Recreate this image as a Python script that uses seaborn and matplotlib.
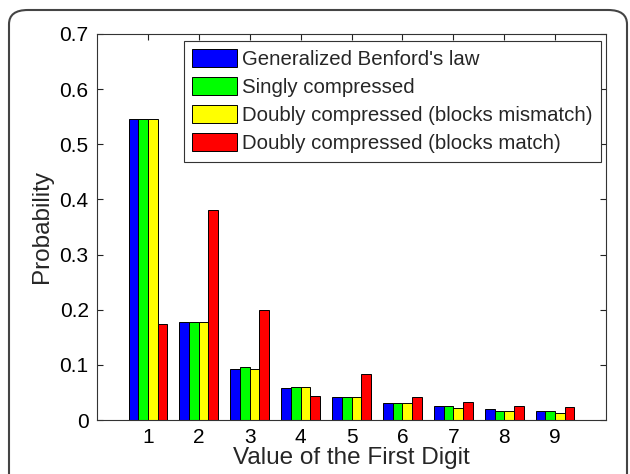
import matplotlib
matplotlib.use("Agg")
import matplotlib.pyplot as plt
from matplotlib.patches import FancyBboxPatch
import seaborn as sns
import pandas as pd

digits = ["1", "2", "3", "4", "5", "6", "7", "8", "9"]
series_names = [
    "Generalized Benford's law",
    "Singly compressed",
    "Doubly compressed (blocks mismatch)",
    "Doubly compressed (blocks match)",
]
benford = [0.546, 0.177, 0.093, 0.058, 0.041, 0.030, 0.025, 0.020, 0.016]
singly = [0.546, 0.177, 0.0955, 0.060, 0.041, 0.030, 0.025, 0.017, 0.016]
mismatch = [0.546, 0.177, 0.0925, 0.060, 0.041, 0.030, 0.022, 0.017, 0.013]
match = [0.175, 0.380, 0.200, 0.043, 0.083, 0.042, 0.033, 0.026, 0.023]
colors = ["#0000ff", "#00ff00", "#ffff00", "#ff0000"]
yticks = [0, 0.1, 0.2, 0.3, 0.4, 0.5, 0.6, 0.7]
ytick_labels = ["0", "0.1", "0.2", "0.3", "0.4", "0.5", "0.6", "0.7"]

rows = []
for name, vals in zip(series_names, [benford, singly, mismatch, match]):
    for d, v in zip(digits, vals):
        rows.append({"digit": d, "prob": v, "series": name})
df = pd.DataFrame(rows)

sns.set_style("ticks")
plt.rcParams["font.family"] = ["Liberation Sans", "DejaVu Sans"]

fig = plt.figure(figsize=(6.3, 4.74), dpi=100)
ax = fig.add_axes([97 / 630, 1 - 420 / 474, (606 - 97) / 630, (420 - 34) / 474])

sns.barplot(data=df, x="digit", y="prob", hue="series", order=digits,
            hue_order=series_names, palette=colors, saturation=1, width=0.76,
            edgecolor="black", linewidth=0.7, ax=ax)

ax.set_xlim(-1, 9)
ax.set_ylim(0, 0.7)
ax.set_yticks(yticks)
ax.set_yticklabels(ytick_labels)
ax.tick_params(direction="in", top=True, right=True, length=4.5, width=0.8,
               labelsize=15, pad=6, colors="#222222", labelcolor="black")
for s in ax.spines.values():
    s.set_linewidth(0.8)
    s.set_color("#333333")
ax.set_xlabel("Value of the First Digit", fontsize=17.5, labelpad=0)
ax.set_ylabel("Probability", fontsize=17.5, labelpad=5)

leg = ax.legend(loc="upper right", bbox_to_anchor=(0.99, 0.982), fontsize=14.7,
                frameon=True, fancybox=False, framealpha=1, edgecolor="#333333",
                handlelength=2.2, handleheight=0.97, handletextpad=0.25,
                labelspacing=0.4, borderpad=0.4, borderaxespad=0)
leg.get_frame().set_linewidth(0.8)

frame = FancyBboxPatch((9 / 630, -0.1), (627 - 9) / 630, 1.1 - 10 / 474,
                       boxstyle="round,pad=0,rounding_size=0.03",
                       transform=fig.transFigure, fill=False,
                       edgecolor="#444444", linewidth=1.5, clip_on=False)
fig.patches.append(frame)

fig.savefig("out.png", dpi=100)
